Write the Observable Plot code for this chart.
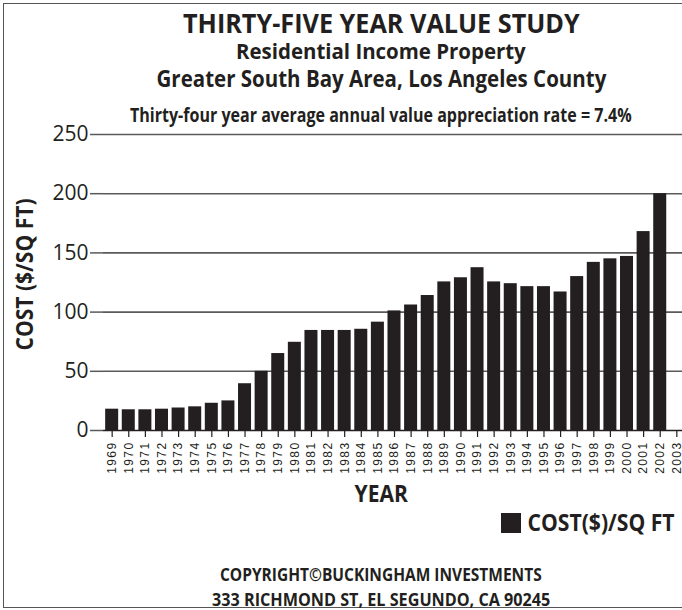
<!DOCTYPE html>
<html>
<head>
<meta charset="utf-8">
<script src="https://cdn.jsdelivr.net/npm/d3@7"></script>
<script src="https://cdn.jsdelivr.net/npm/@observablehq/plot@0.6"></script>
<style>
  html, body { margin: 0; padding: 0; background: #fff; }
  #wrap { position: relative; width: 682px; height: 610px; overflow: hidden; background: #fff; }
  #border { position: absolute; left: 3px; top: 3px; width: 700px; height: 605px; border: 1.5px solid #555; box-sizing: border-box; }
  #chart { position: absolute; left: 0; top: 0; }
  .t { position: absolute; white-space: nowrap; color: #231f20; line-height: 1;
       font-family: "Open Sans", "Noto Sans", sans-serif; font-weight: bold; }
  #legendSw { position: absolute; left: 501px; top: 513px; width: 20px; height: 19.5px; background: #231f20; }
</style>
</head>
<body>
<div id="wrap">
  <div id="border"></div>
  <div id="chart"></div>
  <div class="t" data-cx="381" data-cy="23" data-w="397" style="font-size:27.5px;">THIRTY-FIVE YEAR VALUE STUDY</div>
  <div class="t" data-cx="381" data-cy="51" data-w="290" style="font-size:21px;">Residential Income Property</div>
  <div class="t" data-cx="381" data-cy="78.5" data-w="450" style="font-size:23px;">Greater South Bay Area, Los Angeles County</div>
  <div class="t" data-cx="381" data-cy="115" data-w="502" style="font-size:19.5px;">Thirty-four year average annual value appreciation rate = 7.4%</div>
  <div class="t" data-cx="24" data-cy="274" data-w="152" data-rot="1" style="font-size:23px;">COST ($/SQ FT)</div>
  <div class="t" data-cx="381" data-cy="493.5" data-w="53" style="font-size:23px;">YEAR</div>
  <div id="legendSw"></div>
  <div class="t" data-cx="600.8" data-cy="522.5" data-w="147" style="font-size:23px;">COST($)/SQ FT</div>
  <div class="t" data-cx="381" data-cy="573.5" data-w="322" style="font-size:18px;">COPYRIGHT©BUCKINGHAM INVESTMENTS</div>
  <div class="t" data-cx="381" data-cy="598.5" data-w="338" style="font-size:18px;">333 RICHMOND ST, EL SEGUNDO, CA 90245</div>
</div>
<script>
const years = ["1969","1970","1971","1972","1973","1974","1975","1976","1977","1978",
  "1979","1980","1981","1982","1983","1984","1985","1986","1987","1988",
  "1989","1990","1991","1992","1993","1994","1995","1996","1997","1998",
  "1999","2000","2001","2002","2003"];
const costs = [18, 17.5, 17.5, 18, 19, 20, 23, 25, 39.5, 50,
  65, 74.5, 84.5, 84.5, 84.5, 85.5, 91.5, 101, 106, 114,
  125.5, 129, 137.5, 125.5, 124, 121.5, 121.5, 117, 130, 142,
  145, 147, 168, 200, null];
const yTicks = [0, 50, 100, 150, 200, 250];

const data = years.map((y, i) => ({year: y, cost: costs[i]}));

const chart = Plot.plot({
  width: 682,
  height: 610,
  marginTop: 134,
  marginBottom: 180,
  marginLeft: 103,
  marginRight: 0,
  style: {fontFamily: "'Open Sans', sans-serif", color: "#231f20", background: "transparent", overflow: "visible"},
  x: {type: "band", domain: years, range: [104, 684], paddingInner: 0.217, paddingOuter: 0.07, round: false},
  y: {domain: [0, 250]},
  marks: [
    Plot.ruleY(yTicks.filter(d => d > 0), {stroke: "#5a5a5a", strokeWidth: 1.6}),
    Plot.barY(data.filter(d => d.cost != null), {x: "year", y: "cost", fill: "#231f20"}),
    Plot.ruleY([0], {stroke: "#231f20", strokeWidth: 1.5}),
    Plot.ruleX([0], {x: () => 103, y1: 0, y2: 250, stroke: "#231f20", strokeWidth: 1.5}),
    Plot.axisY({ticks: yTicks, tickSize: 13, tickPadding: 2, fontSize: 21, label: null, stroke: "#5a5a5a", strokeWidth: 1.5, fill: "#231f20"}),
    Plot.axisX({tickSize: 7, tickFormat: () => "", label: null, stroke: "#231f20", strokeWidth: 1.2}),
    Plot.text(years, {x: d => d, frameAnchor: "bottom", dy: 11, rotate: -90, textAnchor: "end",
      fontSize: 12, fill: "#231f20", fontFamily: "'Liberation Sans', Arial, sans-serif", text: d => d,
      className: "xlab"})
  ]
});
document.getElementById("chart").appendChild(chart);

// make sure the year labels are rotated (read bottom to top), anchored below each tick
d3.select(chart).selectAll("g.xlab text, .xlab text").each(function() {
  const el = d3.select(this);
  let x = +el.attr("x") || 0, y = +el.attr("y") || 0;
  const tr = el.attr("transform") || "";
  const m = tr.match(/translate\(\s*([-\d.e]+)[ ,]+([-\d.e]+)\s*\)/);
  if (m) { x += +m[1]; y += +m[2]; }
  const gtr = d3.select(this.parentNode).attr("transform") || "";
  el.attr("x", null).attr("y", null).attr("dy", "0.32em")
    .attr("text-anchor", "end")
    .attr("transform", `translate(${x},${y}) rotate(-90)`)
    .style("letter-spacing", "1.4px");
});

// horizontal fitting of heading texts
document.querySelectorAll(".t").forEach(el => {
  const w = el.offsetWidth, h = el.offsetHeight;
  const s = (+el.dataset.w) / w;
  el.style.left = (+el.dataset.cx - w / 2) + "px";
  el.style.top = (+el.dataset.cy - h / 2) + "px";
  el.style.transform = el.dataset.rot ? `rotate(-90deg) scaleX(${s})` : `scaleX(${s})`;
});
</script>
</body>
</html>
